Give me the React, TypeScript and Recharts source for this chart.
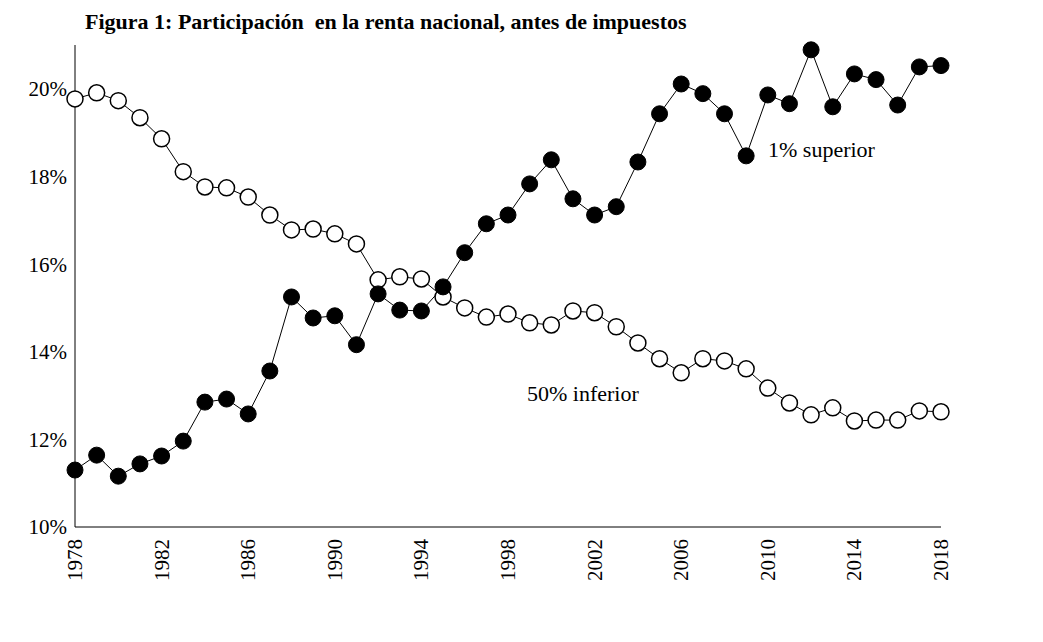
import { LineChart, Line, XAxis, YAxis } from 'recharts'

const years = Array.from({ length: 41 }, (_, i) => 1978 + i)

const top1 = [
  11.3, 11.64, 11.16, 11.44, 11.62, 11.96, 12.85, 12.92, 12.58, 13.56,
  15.25, 14.77, 14.82, 14.16, 15.32, 14.95, 14.93, 15.48, 16.26, 16.92,
  17.12, 17.83, 18.38, 17.49, 17.12, 17.31, 18.33, 19.43, 20.11, 19.89,
  19.43, 18.47, 19.86, 19.66, 20.89, 19.59, 20.34, 20.21, 19.63, 20.5, 20.53,
]

const bottom50 = [
  19.77, 19.91, 19.73, 19.34, 18.86, 18.11, 17.76, 17.74, 17.53, 17.12,
  16.78, 16.8, 16.69, 16.46, 15.64, 15.71, 15.66, 15.25, 15.0, 14.79,
  14.86, 14.66, 14.61, 14.93, 14.89, 14.57, 14.2, 13.84, 13.52, 13.84,
  13.79, 13.61, 13.17, 12.83, 12.56, 12.72, 12.42, 12.44, 12.44, 12.65, 12.63,
]

const xTicks = [1978, 1982, 1986, 1990, 1994, 1998, 2002, 2006, 2010, 2014, 2018]
const yTicks = [10, 12, 14, 16, 18, 20]

const data = years.map((y, i) => ({ year: y, top1: top1[i], bottom50: bottom50[i] }))

const font = '"Liberation Serif", serif'

const XTick = ({ x, y, payload }: any) => (
  <text x={x} y={y + 4} transform={`rotate(-90 ${x} ${y + 4})`} textAnchor="end" dominantBaseline="central"
    fontFamily={font} fontSize={21} fill="#000">
    {payload.value}
  </text>
)

export default function App() {
  return (
    <div style={{ position: 'relative', width: 1027, height: 626, fontFamily: font, background: '#fff' }}>
      <div style={{ position: 'absolute', left: 77, top: 1, fontSize: 22, fontWeight: 'bold' }}>
        Figura 1: Participación&nbsp; en la renta nacional, antes de impuestos
      </div>
      <div style={{ position: 'absolute', left: 760, top: 129, fontSize: 22 }}>1% superior</div>
      <div style={{ position: 'absolute', left: 519, top: 373, fontSize: 22 }}>50% inferior</div>
      <LineChart width={1027} height={626} data={data} margin={{ top: 37, right: 94, left: 0, bottom: 27 }}>
        <XAxis dataKey="year" type="number" domain={[1978, 2018]} ticks={xTicks} tickLine={false}
          axisLine={{ stroke: '#000' }} height={80} tick={<XTick />} interval={0} />
        <YAxis type="number" domain={[10, 21]} ticks={yTicks} width={67} tickLine={false}
          axisLine={{ stroke: '#000' }} tickFormatter={(v) => `${v}%`}
          tick={{ fontFamily: font, fontSize: 21, fill: '#000' }} />
        <Line dataKey="bottom50" stroke="#000" strokeWidth={1} isAnimationActive={false}
          dot={{ r: 8, fill: '#fff', stroke: '#000', strokeWidth: 1.5 }} />
        <Line dataKey="top1" stroke="#000" strokeWidth={1} isAnimationActive={false}
          dot={{ r: 8, fill: '#000', stroke: '#000', strokeWidth: 1 }} />
      </LineChart>
    </div>
  )
}
